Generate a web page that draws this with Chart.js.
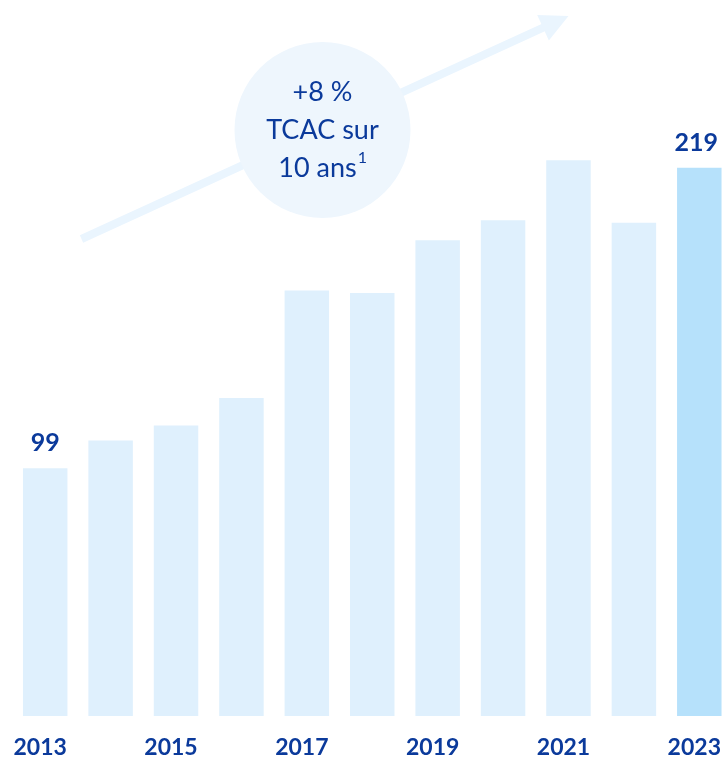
<!DOCTYPE html>
<html>
<head>
<meta charset="utf-8">
<script src="https://cdn.jsdelivr.net/npm/chart.js@4"></script>
<style>
  html, body { margin: 0; padding: 0; background: #fff; overflow: hidden; }
  .wrap { width: 722px; height: 759px; overflow: hidden; }
  canvas { display: block; }
</style>
</head>
<body>
<div class="wrap"><canvas id="c" width="735" height="759" style="width:735px;height:759px"></canvas></div>
<script>
const years = ['2013', '2014', '2015', '2016', '2017', '2018', '2019', '2020', '2021', '2022', '2023'];
const values = [99, 110, 116, 127, 170, 169, 190, 198, 222, 197, 219];
const tickLabels = ['2013', '', '2015', '', '2017', '', '2019', '', '2021', '', '2023'];
const valueLabels = ['99', '', '', '', '', '', '', '', '', '', '219'];
const cagrLines = ['+8 %', 'TCAC sur', '10 ans'];

const navy = '#0b3a9b';
const visibleWidth = 722;
const barColors = years.map((y, i) => i === years.length - 1 ? '#b6e1fb' : '#dff0fd');

// arrow + circle with the growth rate
const cagrBubble = {
  id: 'cagrBubble',
  beforeDatasetsDraw(chart) {
    const { ctx, chartArea } = chart;
    const ox = chartArea.left, oy = chartArea.top;
    const x0 = ox + 69, y0 = oy + 224, x1 = ox + 556, y1 = oy + 1;
    const dx = x1 - x0, dy = y1 - y0, len = Math.hypot(dx, dy);
    const ux = dx / len, uy = dy / len;
    ctx.save();
    ctx.strokeStyle = '#eaf5fe';
    ctx.fillStyle = '#eaf5fe';
    ctx.lineWidth = 8;
    ctx.beginPath();
    ctx.moveTo(x0, y0);
    ctx.lineTo(x1 - ux * 20, y1 - uy * 20);
    ctx.stroke();
    const bx = x1 - ux * 28, by = y1 - uy * 28;
    ctx.beginPath();
    ctx.moveTo(x1, y1);
    ctx.lineTo(bx - uy * 14, by + ux * 14);
    ctx.lineTo(bx + uy * 14, by - ux * 14);
    ctx.closePath();
    ctx.fill();

    const cx = ox + 310, cy = oy + 115;
    ctx.fillStyle = '#eef6fd';
    ctx.beginPath();
    ctx.arc(cx, cy, 88, 0, Math.PI * 2);
    ctx.fill();

    ctx.fillStyle = navy;
    ctx.font = '27px Lato';
    ctx.textAlign = 'center';
    ctx.textBaseline = 'middle';
    ctx.fillText(cagrLines[0], cx, cy - 38);
    ctx.fillText(cagrLines[1], cx, cy);
    const w = ctx.measureText(cagrLines[2]).width;
    ctx.fillText(cagrLines[2], cx - 5, cy + 38);
    ctx.font = '16px Lato';
    ctx.textAlign = 'left';
    ctx.fillText('1', cx - 5 + w / 2 + 1, cy + 28);
    ctx.restore();
  }
};

// value above first and last bar, kept inside the visible page
const valueTags = {
  id: 'valueTags',
  afterDatasetsDraw(chart) {
    const { ctx } = chart;
    const bars = chart.getDatasetMeta(0).data;
    ctx.save();
    ctx.fillStyle = navy;
    ctx.font = 'bold 25px Lato';
    ctx.textAlign = 'center';
    ctx.textBaseline = 'middle';
    bars.forEach((bar, i) => {
      if (!valueLabels[i]) return;
      const w = ctx.measureText(valueLabels[i]).width;
      const x = Math.min(bar.x, visibleWidth - 4 - w / 2);
      ctx.fillText(valueLabels[i], x, bar.y - 25);
    });
    ctx.restore();
  }
};

new Chart(document.getElementById('c'), {
  type: 'bar',
  data: {
    labels: years,
    datasets: [
      {
        data: values,
        backgroundColor: barColors,
        borderWidth: 0,
        barPercentage: 0.68,
        categoryPercentage: 1,
      },
    ],
  },
  options: {
    responsive: false,
    devicePixelRatio: 1,
    animation: false,
    layout: { autoPadding: false, padding: { left: 12.5, right: 3, top: 15, bottom: 0 } },
    scales: {
      x: {
        grid: { display: false, drawTicks: false },
        border: { display: false },
        afterFit: (scale) => { scale.height = 43; },
        ticks: {
          autoSkip: false,
          maxRotation: 0,
          padding: 0,
          labelOffset: -5,
          color: navy,
          // tall line box pushes the year labels down without side padding
          font: { family: 'Lato', size: 23, weight: 'bold', lineHeight: 2.78 },
          callback: (v, i) => tickLabels[i],
        },
      },
      y: {
        display: false,
        min: 0,
        max: 280,
      },
    },
    plugins: {
      legend: { display: false },
      tooltip: { enabled: false },
    },
  },
  plugins: [cagrBubble, valueTags],
});
</script>
</body>
</html>
